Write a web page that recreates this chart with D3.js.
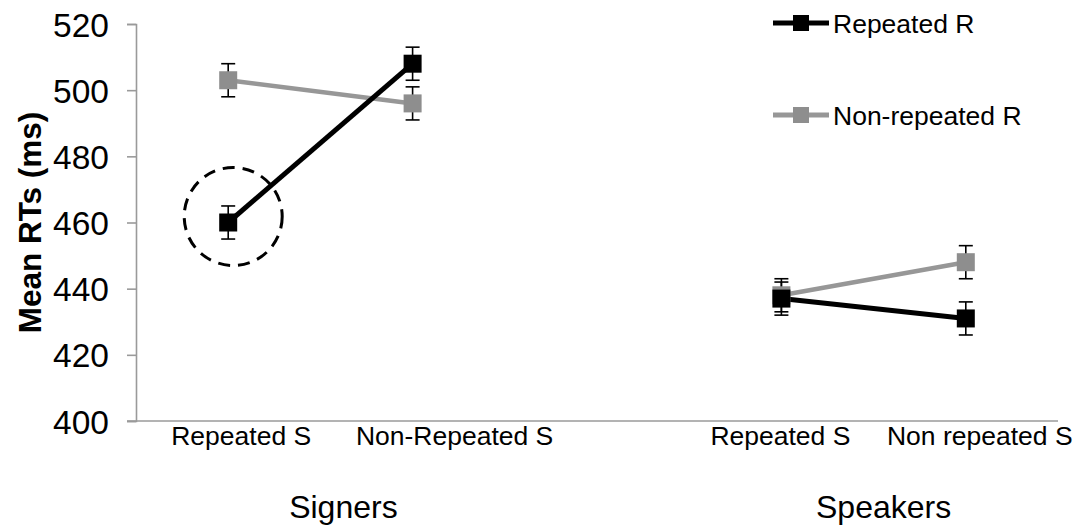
<!DOCTYPE html>
<html>
<head>
<meta charset="utf-8">
<script src="https://cdnjs.cloudflare.com/ajax/libs/d3/7.8.5/d3.min.js"></script>
<style>
  body { margin: 0; background: #fff; }
  text { font-family: "Liberation Sans", Arial, sans-serif; fill: #000; }
</style>
</head>
<body>
<div id="chart"></div>
<script>
const width = 1092;
const height = 525;

// slots on the category axis (one empty slot between the groups)
const slots = ["sig-rep", "sig-non", "gap", "spk-rep", "spk-non"];
const catLabels = ["Repeated S", "Non-Repeated S", "", "Repeated S", "Non repeated S"];
const groups = ["Signers", "Speakers"];
const groupSlots = [["sig-rep", "sig-non"], ["spk-rep", "spk-non"]];

const seriesNames = ["Repeated R", "Non-repeated R"];
// mean RTs per group: [Repeated S, Non-repeated S]
const repeatedR = [[460, 508], [437, 431]];
const nonRepeatedR = [[503, 496], [438, 448]];
const errRepeatedR = [[5, 5], [5, 5]];
const errNonRepeatedR = [[5, 5], [5, 5]];

const yTicks = [400, 420, 440, 460, 480, 500, 520];

const colors = { line: ["#000000", "#979797"], marker: ["#000000", "#8e8e8e"] };

const svg = d3.select("#chart")
  .append("svg")
    .attr("width", width)
    .attr("height", height);

svg.append("defs")
  .append("filter")
    .attr("id", "soft")
  .append("feGaussianBlur")
    .attr("stdDeviation", 0.7);

let x = d3.scaleBand()
  .domain(slots)
  .range([136, 1058])
  .padding(0);

let y = d3.scaleLinear()
  .domain([400, 520])
  .range([421, 24]);

const cx = s => x(s) + x.bandwidth() / 2;

// label nudges (the original labels are not centred on the points)
const catNudge = { "sig-rep": 13, "sig-non": 42, "spk-rep": -1, "spk-non": 14 };
const groupNudge = [23, 10];

/* ----------------------- axes ----------------------- */
const yAxis = d3.axisLeft(y)
  .tickValues(yTicks)
  .tickSize(9)
  .tickPadding(18);

const gy = svg.append("g")
  .attr("transform", `translate(${x.range()[0]},0)`)
  .call(yAxis);
gy.select(".domain").attr("stroke", "#9a9a9a").attr("stroke-width", 1.6);
gy.selectAll(".tick line").attr("stroke", "#9a9a9a").attr("stroke-width", 1.6);
gy.selectAll(".tick text")
  .style("font-size", "33.5px")
  .attr("dy", "0.36em");

// baseline
svg.append("line")
  .attr("x1", x.range()[0] - 9)
  .attr("x2", x.range()[1])
  .attr("y1", y(400))
  .attr("y2", y(400))
  .attr("stroke", "#9a9a9a")
  .attr("stroke-width", 1.6);

// category labels
svg.selectAll(".cat")
  .data(slots.filter((s, i) => catLabels[i] !== ""))
  .join("text")
    .attr("class", "cat")
    .attr("x", d => cx(d) + catNudge[d])
    .attr("y", 445)
    .attr("text-anchor", "middle")
    .style("font-size", "26.5px")
    .text(d => catLabels[slots.indexOf(d)]);

// group labels
svg.selectAll(".grp")
  .data(groups)
  .join("text")
    .attr("class", "grp")
    .attr("x", (d, i) => (cx(groupSlots[i][0]) + cx(groupSlots[i][1])) / 2 + groupNudge[i])
    .attr("y", 518)
    .attr("text-anchor", "middle")
    .style("font-size", "32px")
    .text(d => d);

// y title
svg.append("text")
  .attr("transform", `translate(41,${(y(400) + y(520)) / 2}) rotate(-90)`)
  .attr("text-anchor", "middle")
  .style("font-size", "31.5px")
  .style("font-weight", "bold")
  .text("Mean RTs (ms)");

/* ----------------------- series ----------------------- */
const means = [repeatedR, nonRepeatedR];
const errs = [errRepeatedR, errNonRepeatedR];

// flatten into points
let points = [];
means.forEach((m, si) => {
  m.forEach((pair, gi) => {
    pair.forEach((v, ci) => {
      points.push({ series: si, group: gi, slot: groupSlots[gi][ci], value: v, err: errs[si][gi][ci] });
    });
  });
});

const line = d3.line()
  .x(d => cx(d.slot))
  .y(d => y(d.value));

// lines (grey first, black on top)
[1, 0].forEach(si => {
  [0, 1].forEach(gi => {
    svg.append("path")
      .datum(points.filter(p => p.series === si && p.group === gi))
      .attr("d", line)
      .attr("fill", "none")
      .attr("stroke", colors.line[si])
      .attr("stroke-width", si === 0 ? 5 : 4.5);
  });
});

// error bars
const eb = svg.selectAll(".err")
  .data(points)
  .join("g")
    .attr("class", "err")
    .attr("stroke", "#000")
    .attr("stroke-width", 1.6);
eb.append("line")
  .attr("x1", d => cx(d.slot)).attr("x2", d => cx(d.slot))
  .attr("y1", d => y(d.value + d.err)).attr("y2", d => y(d.value - d.err));
eb.append("line")
  .attr("x1", d => cx(d.slot) - 7).attr("x2", d => cx(d.slot) + 7)
  .attr("y1", d => y(d.value + d.err)).attr("y2", d => y(d.value + d.err));
eb.append("line")
  .attr("x1", d => cx(d.slot) - 7).attr("x2", d => cx(d.slot) + 7)
  .attr("y1", d => y(d.value - d.err)).attr("y2", d => y(d.value - d.err));

// square markers
const ms = 18;
svg.selectAll(".marker")
  .data(points.slice().sort((a, b) => b.series - a.series))
  .join("rect")
    .attr("class", "marker")
    .attr("x", d => cx(d.slot) - ms / 2)
    .attr("y", d => y(d.value) - ms / 2)
    .attr("width", ms)
    .attr("height", ms)
    .attr("fill", d => colors.marker[d.series])
    .attr("filter", "url(#soft)");

// dashed circle around signers / repeated S / repeated R
svg.append("circle")
  .attr("cx", cx("sig-rep") + 5)
  .attr("cy", y(repeatedR[0][0]) - 6)
  .attr("r", 49)
  .attr("fill", "none")
  .attr("stroke", "#000")
  .attr("stroke-width", 3)
  .attr("stroke-dasharray", "12,8");

/* ----------------------- legend ----------------------- */
const legend = svg.append("g")
  .attr("class", "legend");

const legendRows = legend.selectAll(".row")
  .data(seriesNames)
  .join("g")
    .attr("class", "row")
    .attr("transform", (d, i) => `translate(773,${23 + i * 92})`);

legendRows.append("line")
  .attr("x1", 0).attr("x2", 56)
  .attr("y1", 0).attr("y2", 0)
  .attr("stroke", (d, i) => colors.line[i])
  .attr("stroke-width", 5);
legendRows.append("rect")
  .attr("x", 28 - 8).attr("y", -8)
  .attr("width", 16).attr("height", 16)
  .attr("fill", (d, i) => colors.marker[i]);
legendRows.append("text")
  .attr("x", 60)
  .attr("y", 0)
  .attr("dy", "0.36em")
  .style("font-size", "26.5px")
  .text(d => d);
</script>
</body>
</html>
